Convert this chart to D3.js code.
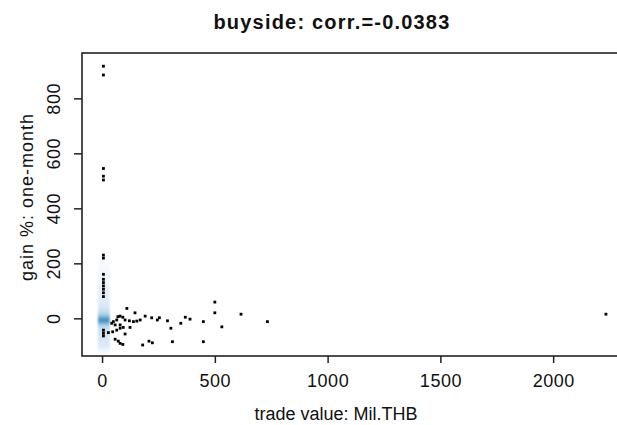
<!DOCTYPE html>
<html>
<head>
<meta charset="utf-8">
<script src="https://cdn.jsdelivr.net/npm/d3@7"></script>
<style>
  body { margin: 0; background: #fff; }
  text { font-family: "Liberation Sans", Arial, sans-serif; fill: #111; }
</style>
</head>
<body>
<div id="vis"></div>
<script>
const FRAME_WIDTH = 617;
const FRAME_HEIGHT = 425;
const MARGINS = {left: 82, right: -9, top: 53, bottom: 69};

// outlier points drawn by smoothScatter (trade value, gain %)
const tradeValue = [6, 6, 6, 6, 6, 6, 6, 6, 6, 6, 6, 6, 6, 6, 6, 6, 6,
  110, 146, 191, 220, 245, 254, 290, 305, 349, 369, 390, 449, 500, 500, 531, 616, 733,
  180, 208, 223, 312, 449, 58, 72, 80, 92, 102, 80, 28, 47, 65,
  43, 50, 65, 70, 80, 92, 102, 80, 58, 121, 139, 154, 169, 124, 94, 2234];
const gainPct = [917, 885, 545, 517, 503, 230, 219, 160, 142, 130, 118, 106, 93, 79, -43, -54, -64,
  36, 20, 8, 2, -6, 2, -9, -36, -18, 4, -3, -12, 59, 20, -31, 15, -12,
  -97, -83, -89, -85, -85, -76, -83, -91, -95, -57, -36, -52, -49, -43,
  -18, -12, -6, 6, 8, 4, -6, -24, -24, -9, -12, -10, -6, -33, -33, 15];

// smoothed density of the bulk of the trades near zero (level 0..1)
const densityX = [-18, 34];
const densityY = [240, 230, 220, 210, 200, 190, 180, 170, 160, 150, 140, 130, 120, 110, 100, 90, 80, 70,
  60, 50, 40, 30, 20, 10, 0, -10, -20, -30, -40, -50, -60, -70, -80, -90, -100, -110, -120, -130];
const densityLevel = [0.03, 0.05, 0.07, 0.08, 0.09, 0.1, 0.11, 0.12, 0.13, 0.14, 0.15, 0.16, 0.17, 0.18, 0.19, 0.2, 0.21, 0.22,
  0.23, 0.24, 0.26, 0.3, 0.36, 0.46, 0.62, 0.67, 0.5, 0.36, 0.31, 0.29, 0.28, 0.27, 0.26, 0.25, 0.23, 0.19, 0.12, 0.06];

const xTicks = [0, 500, 1000, 1500, 2000];
const yTicks = [0, 200, 400, 600, 800];
const xLim = [-89, 2323];
const yLim = [-137, 965];

const VIS_WIDTH = FRAME_WIDTH - MARGINS.left - MARGINS.right;
const VIS_HEIGHT = FRAME_HEIGHT - MARGINS.top - MARGINS.bottom;

const FRAME = d3.select('#vis')
  .append('svg')
    .attr('width', FRAME_WIDTH)
    .attr('height', FRAME_HEIGHT);

const X_SCALE = d3.scaleLinear().domain(xLim).range([0, VIS_WIDTH]);
const Y_SCALE = d3.scaleLinear().domain(yLim).range([VIS_HEIGHT, 0]);

const blues = d3.interpolateRgbBasis(['#FFFFFF', '#F7FBFF', '#DEEBF7', '#C6DBEF', '#9ECAE1',
  '#6BAED6', '#4292C6', '#2171B5', '#08519C', '#08306B']);

FRAME.append('defs').append('filter')
    .attr('id', 'soft')
  .append('feGaussianBlur')
    .attr('stdDeviation', 0.8);

const plot = FRAME.append('g')
  .attr('transform', 'translate(' + MARGINS.left + ',' + MARGINS.top + ')');

// density strip
plot.append('g')
    .attr('filter', 'url(#soft)')
  .selectAll('rect')
  .data(densityY)
  .enter()
  .append('rect')
    .attr('x', X_SCALE(densityX[0]))
    .attr('width', X_SCALE(densityX[1]) - X_SCALE(densityX[0]))
    .attr('y', (d) => Y_SCALE(d + 5))
    .attr('height', Y_SCALE(0) - Y_SCALE(10) + 0.5)
    .attr('fill', (d, i) => blues(densityLevel[i]));

// points
plot.selectAll('.pt')
  .data(tradeValue)
  .enter()
  .append('rect')
    .attr('class', 'pt')
    .attr('x', (d) => X_SCALE(d) - 1.4)
    .attr('y', (d, i) => Y_SCALE(gainPct[i]) - 1.4)
    .attr('width', 2.8)
    .attr('height', 2.8)
    .attr('fill', '#000');

// box
plot.append('rect')
    .attr('width', VIS_WIDTH)
    .attr('height', VIS_HEIGHT)
    .attr('fill', 'none')
    .attr('stroke', '#222')
    .attr('stroke-width', 1.6);

// x axis
const xAxis = plot.append('g')
    .attr('transform', 'translate(0,' + VIS_HEIGHT + ')')
    .call(d3.axisBottom(X_SCALE).tickValues(xTicks).tickSize(7).tickFormat(d3.format('d')));
xAxis.select('.domain').remove();
xAxis.selectAll('line').attr('stroke', '#222').attr('stroke-width', 1.5);
xAxis.selectAll('text')
    .attr('y', 31.3)
    .attr('dy', null)
    .attr('font-size', '18px')
    .attr('letter-spacing', '0.5px')
    .attr('fill', '#111');

// y axis
const yAxis = plot.append('g')
    .call(d3.axisLeft(Y_SCALE).tickValues(yTicks).tickSize(8).tickFormat(d3.format('d')));
yAxis.select('.domain').remove();
yAxis.selectAll('line').attr('stroke', '#222').attr('stroke-width', 1.5);
yAxis.selectAll('text')
    .attr('transform', 'rotate(-90)')
    .attr('x', 0)
    .attr('y', -22.5)
    .attr('dy', null)
    .attr('text-anchor', 'middle')
    .attr('font-size', '18px')
    .attr('letter-spacing', '0.5px')
    .attr('fill', '#111');

// titles
FRAME.append('text')
    .attr('x', 332)
    .attr('y', 29)
    .attr('text-anchor', 'middle')
    .attr('font-size', '20px')
    .attr('font-weight', 'bold')
    .attr('letter-spacing', '1.2px')
    .text('buyside: corr.=-0.0383');

FRAME.append('text')
    .attr('x', 336)
    .attr('y', 420)
    .attr('text-anchor', 'middle')
    .attr('font-size', '18px')
    .text('trade value: Mil.THB');

FRAME.append('text')
    .attr('transform', 'translate(33,197) rotate(-90)')
    .attr('text-anchor', 'middle')
    .attr('font-size', '18px')
    .attr('letter-spacing', '1px')
    .text('gain %: one-month');
</script>
</body>
</html>
